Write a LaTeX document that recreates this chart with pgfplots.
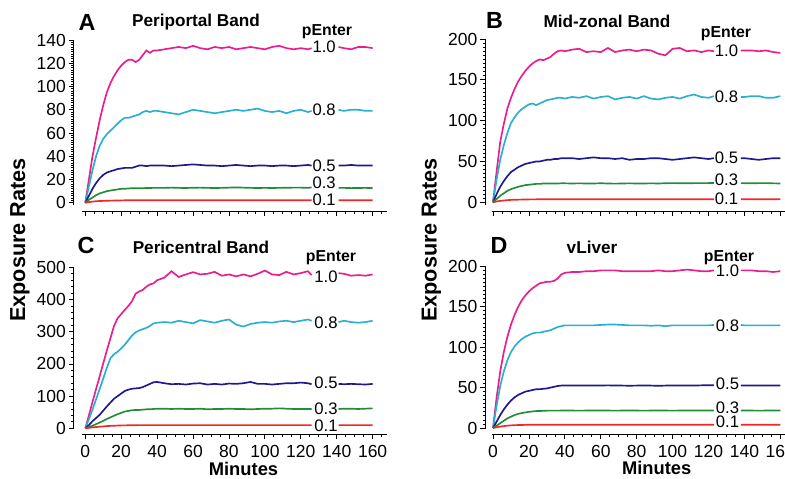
\documentclass[border=0pt]{standalone}
\usepackage{fontspec}
\setmainfont{Liberation Sans}
\usepackage{pgfplots}
\usepackage{pgfplotstable}
\pgfplotsset{compat=1.18}
\definecolor{cMag}{HTML}{E91E8C}
\definecolor{cCya}{HTML}{2BAFD0}
\definecolor{cNav}{HTML}{1E198C}
\definecolor{cGre}{HTML}{238C37}
\definecolor{cRed}{HTML}{F02828}

% Panel A: Periportal Band
\pgfplotstableread{
x a b c d e
0 0 0 0 0 0
2 20 14 6 2.5 0.6
4 40 28 12 4.5 1.0
6 56 40 17 6.5 1.3
8 71 49 21 8 1.5
10 84 55 24 9 1.6
12 95 59 26 10 1.7
14 103 62 27 10.5 1.8
16 109 65 28 11 1.9
18 114 68 29 11.5 2.0
20 118 71 29.5 12 2.0
22 121 73 30 12 2.1
24 123 73 30 12.3 2.1
26 123 74 30 12.5 2.1
28 121 75 31 12.5 2.1
30 123 76 32 12.5 2.2
32 127 78 32 12.5 2.2
34 131 79 31.5 12.7 2.2
36 129 78 32 12.7 2.2
38 131 79 32 12.8 2.2
40 131 79 32 12.8 2.2
44 132 78 32 12.8 2.2
48 133 77 31.5 13 2.2
52 134 76 32 12.8 2.2
56 133 78 32.5 12.7 2.2
60 135 80 33 12.9 2.2
64 133 79 32.5 13 2.2
68 132 78 32 12.8 2.2
72 134 77 32 12.7 2.2
76 133 78 31.5 12.8 2.2
80 134 79 32 13 2.2
84 132 80 32.5 13.2 2.2
88 133 79 32 13 2.2
92 134 80 31.5 12.8 2.2
96 133 81 32 12.7 2.2
100 132 79 32 12.8 2.2
104 134 78 31.5 12.7 2.2
108 135 79 32 12.8 2.2
112 133 77 32 12.9 2.2
116 132 79 31.5 13 2.2
120 133 80 32 13 2.2
124 132 78 32.5 12.8 2.2
126 133 79 32 13.2 2.2
133 nan nan nan nan nan
141 134 80 32 12.8 2.2
144 133 79 32 12.8 2.2
148 132 80 32.5 12.6 2.2
152 134 80 32 12.7 2.2
156 134 79 32 12.8 2.2
160 133 79 32 12.6 2.2
}\tabA

% Panel B: Mid-zonal Band
\pgfplotstableread{
x a b c d e
0 0 0 0 0 0
2 38 28 10 4 1
4 74 52 19 8 1.7
6 96 70 26 11 2.2
8 115 85 32 14 2.6
10 128 97 37 16 2.9
12 139 104 40 17.5 3.1
14 148 110 43 19 3.2
16 155 114 45 20 3.3
18 161 117 47 21 3.4
20 166 120 48 21.5 3.5
22 170 121 49 22 3.5
24 173 119 50 22.5 3.6
26 175 121 50 22.5 3.6
28 174 123 51 23 3.6
30 176 125 52 23 3.6
32 178 126 52 23 3.7
34 182 127 53 23 3.7
36 185 128 53 23 3.7
38 186 128 54 23.2 3.7
40 185 127 54 23.2 3.7
44 187 129 54 23 3.7
48 188 128 53 23.2 3.7
52 184 130 54 23 3.7
56 185 127 55 23 3.7
60 184 129 54 23.3 3.7
64 189 130 54 23 3.7
68 184 126 53 22.8 3.7
72 186 128 54 23 3.7
76 187 129 52 23.2 3.7
80 185 127 53 23 3.7
84 187 130 53 23 3.8
88 186 127 54 23.2 3.8
92 182 126 54 23 3.8
96 180 128 53 23.3 3.8
100 188 129 52 23.5 3.8
104 189 127 53 23.3 3.8
108 185 130 54 23.2 3.8
112 186 132 55 23.4 3.8
116 184 129 54 23.5 3.8
120 186 128 53 23.5 3.8
123 185 130 54 23.6 3.8
130 nan nan nan nan nan
138 186 129 54 23.5 3.8
140 186 129 54 23.4 3.8
144 186 130 53 23.2 3.8
148 185 130 52 23.4 3.8
152 186 128 53 23.5 3.8
156 184 128 54 23.2 3.8
160 183 130 54 23 3.8
}\tabB

% Panel C: Pericentral Band
\pgfplotstableread{
x a b c d e
0 0 0 0 0 0
2 40 28 10 4 1.5
4 82 58 22 8 3
6 122 90 32 13 4
8 162 122 42 18 5
10 202 155 55 23 6
12 242 188 68 29 7
14 280 218 80 34 7.5
16 318 230 92 39 8
18 342 238 100 44 8.5
20 355 248 108 48 9
22 368 260 116 52 9
24 380 274 120 54 9.5
26 395 288 123 56 9.5
28 418 298 124 57 9.5
30 425 304 125 57 10
32 430 308 128 58 10
34 440 312 133 59 10
36 447 318 138 59 10
38 450 326 143 60 10
40 460 328 144 61 10
44 468 330 140 61 10
48 488 328 137 60 10
52 470 334 138 61 10
56 478 330 136 60 10
60 485 326 139 60 10
64 478 336 140 61 10
68 480 332 136 59 10
72 486 328 138 60 10
76 474 334 136 60 10
80 478 338 139 61 10
84 472 322 138 60 10
88 478 316 140 60 10
92 472 324 144 59 10
96 480 328 138 60 10
100 490 330 138 61 10
104 478 328 136 61 10
108 476 332 138 62 10
112 486 334 140 61 10
116 478 330 140 60 10
120 482 334 142 60 10
124 488 338 140 60 10
126 476 334 137 60 10
133 nan nan nan nan nan
141 482 330 138 60 10
144 480 334 137 61 10
148 474 330 138 61 10
152 476 328 137 60 10
156 474 330 136 61 10
160 478 334 138 62 10
}\tabC

% Panel D: vLiver
\pgfplotstableread{
x a b c d e
0 0 0 0 0 0
2 38 28 8 3 1
4 70 52 16 6 1.8
6 94 70 23 9 2.4
8 113 84 29 12 2.9
10 128 94 34 14 3.3
12 140 101 38 16 3.5
14 150 106 41 17.5 3.7
16 158 110 43 18.5 3.8
18 164 113 45 19.3 3.9
20 169 115 46 20 4
22 173 117 47 20.5 4
24 176 118 48 21 4
26 179 118 48 21 4
28 180 119 48.5 21.3 4
30 181 120 49 21.5 4
32 181 121 50 21.5 4
34 182 123 51 21.5 4
36 185 125 52 21.5 4
38 190 126 52.5 21.6 4
40 192 127 52.5 21.6 4
44 193 127 52.5 21.6 4
48 193 127 52.5 21.5 4
52 194 127 52.7 21.6 4
56 194 127 52.5 21.6 4
60 195 127.5 52.5 21.6 4
64 195 128 52.8 21.6 4
68 195 128 52.5 21.5 4
72 194 127.5 52.5 21.6 4
76 194 127 52.3 21.6 4
80 194 127 52.5 21.6 4
84 194 127 52.5 21.5 4
88 194 126.5 52.5 21.6 4
92 195 127 52.2 21.6 4
96 194 126 52.5 21.6 4
100 194 127 52.5 21.5 4
104 195 127 52.7 21.6 4
108 196 127 52.5 21.6 4
112 195 127 52.5 21.7 4
116 194 127 52.8 21.6 4
120 194 127 53 21.6 4
123 195 127.5 53 21.6 4
130 nan nan nan nan nan
138 195 127.5 52.5 21.6 4
140 195 127 52.5 21.6 4
144 195 127 52.5 21.6 4
148 194 127 52.5 21.5 4
152 194 127 52.5 21.6 4
156 193 127 52.5 21.6 4
160 194 127 52.5 21.6 4
}\tabD

\pgfplotsset{
  panel/.style={
    scale only axis, anchor=south west,
    axis lines=left,
    axis line style={-, line width=0.6pt, black},
    tick align=outside, major tick length=3.2pt, minor tick length=1.6pt,
    every tick/.style={black, line width=0.5pt},
    xmax=168, xtick={0,20,...,160}, minor xtick={0,5,...,165},
    tick label style={font=\fontsize{10.5}{12}\selectfont},
    /pgf/number format/assume math mode=true,
    yticklabel style={inner xsep=1.5pt},
    clip=false, unbounded coords=jump,
    every axis plot/.append style={line width=1pt},
  },
}
\tikzset{lab/.style={font=\fontsize{10}{12}\selectfont, inner sep=0pt}}

\begin{document}
\begin{tikzpicture}
\useasboundingbox (0,0) rectangle (471pt,-286.8pt);

% Panel A
\begin{axis}[panel, at={(44.4pt,-126.6pt)}, width=187.8pt, height=102.6pt,
  xmin=-6.3, ymin=-7.1, ymax=140, ytick={0,20,...,140}, minor ytick={0,2,...,140},
  xticklabels={},
  x axis line style={shorten <=4.8pt}, y axis line style={shorten <=3.6pt}]
\addplot[cMag] table[x=x,y=a]{\tabA};
\addplot[cCya] table[x=x,y=b]{\tabA};
\addplot[cNav] table[x=x,y=c]{\tabA};
\addplot[cGre] table[x=x,y=d]{\tabA};
\addplot[cRed] table[x=x,y=e]{\tabA};
\node[lab] at (axis cs:133,134) {1.0};
\node[lab] at (axis cs:133,80) {0.8};
\node[lab] at (axis cs:133,32) {0.5};
\node[lab] at (axis cs:133,17) {0.3};
\node[lab] at (axis cs:133,2.5) {0.1};
\end{axis}

% Panel B
\begin{axis}[panel, at={(291.3pt,-126.6pt)}, width=185.5pt, height=103.2pt,
  xmin=-4.2, ymin=-10.7, ymax=200, ytick={0,50,...,200}, minor ytick={0,5,...,200},
  xticklabels={},
  x axis line style={shorten <=3.6pt}, y axis line style={shorten <=3.6pt}]
\addplot[cMag] table[x=x,y=a]{\tabB};
\addplot[cCya] table[x=x,y=b]{\tabB};
\addplot[cNav] table[x=x,y=c]{\tabB};
\addplot[cGre] table[x=x,y=d]{\tabB};
\addplot[cRed] table[x=x,y=e]{\tabB};
\node[lab] at (axis cs:130,186) {1.0};
\node[lab] at (axis cs:130,129) {0.8};
\node[lab] at (axis cs:130,54) {0.5};
\node[lab] at (axis cs:130,27) {0.3};
\node[lab] at (axis cs:130,4.5) {0.1};
\end{axis}

% Panel C
\begin{axis}[panel, at={(44.4pt,-260.4pt)}, width=187.8pt, height=100pt,
  xmin=-6.3, ymin=-17.7, ymax=500, ytick={0,100,...,500}, minor ytick={0,20,...,500},
  x axis line style={shorten <=4.8pt}, y axis line style={shorten <=3pt}]
\addplot[cMag] table[x=x,y=a]{\tabC};
\addplot[cCya] table[x=x,y=b]{\tabC};
\addplot[cNav] table[x=x,y=c]{\tabC};
\addplot[cGre] table[x=x,y=d]{\tabC};
\addplot[cRed] table[x=x,y=e]{\tabC};
\node[lab] at (axis cs:134,472) {1.0};
\node[lab] at (axis cs:134,327) {0.8};
\node[lab] at (axis cs:134,140) {0.5};
\node[lab] at (axis cs:134,62) {0.3};
\node[lab] at (axis cs:134,8) {0.1};
\end{axis}

% Panel D
\begin{axis}[panel, at={(291.3pt,-260.4pt)}, width=185.5pt, height=100.6pt,
  xmin=-4.2, ymin=-7.4, ymax=200, ytick={0,50,...,200}, minor ytick={0,5,...,200},
  x axis line style={shorten <=3.6pt}, y axis line style={shorten <=3pt}]
\addplot[cMag] table[x=x,y=a]{\tabD};
\addplot[cCya] table[x=x,y=b]{\tabD};
\addplot[cNav] table[x=x,y=c]{\tabD};
\addplot[cGre] table[x=x,y=d]{\tabD};
\addplot[cRed] table[x=x,y=e]{\tabD};
\node[lab] at (axis cs:130.6,194) {1.0};
\node[lab] at (axis cs:130.6,127) {0.8};
\node[lab] at (axis cs:130.6,54.5) {0.5};
\node[lab] at (axis cs:130.6,25) {0.3};
\node[lab] at (axis cs:130.6,7.4) {0.1};
\end{axis}

\begin{scope}[x=0.6pt,y=-0.6pt]
\tikzset{
  letter/.style={font=\bfseries\fontsize{14}{16}\selectfont, anchor=base, inner sep=0pt},
  ttl/.style={font=\bfseries\fontsize{10.3}{12}\selectfont, anchor=base, inner sep=0pt},
  pen/.style={font=\bfseries\fontsize{9.5}{11}\selectfont, anchor=base, inner sep=0pt},
  axl/.style={font=\bfseries\fontsize{11}{13}\selectfont, anchor=base, inner sep=0pt},
  yl/.style={font=\bfseries\fontsize{13}{15}\selectfont, anchor=base, inner sep=0pt, rotate=90},
}
\node[letter] at (87,30) {A};
\node[letter] at (494.5,28.5) {B};
\node[letter] at (86,253) {C};
\node[letter] at (499,253) {D};
\node[ttl] at (196,26.7) {Periportal Band};
\node[ttl] at (607,27.3) {Mid-zonal Band};
\node[ttl] at (201,253) {Pericentral Band};
\node[ttl] at (592,253) {vLiver};
\node[pen] at (327,35) {pEnter};
\node[pen] at (726,37.3) {pEnter};
\node[pen] at (331,261.3) {pEnter};
\node[pen] at (729,261.3) {pEnter};
\node[axl] at (243.5,475.3) {Minutes};
\node[axl] at (656.7,474) {Minutes};
\node[yl] at (25,240) {Exposure Rates};
\node[yl] at (436.7,240) {Exposure Rates};
\end{scope}
\end{tikzpicture}
\end{document}
